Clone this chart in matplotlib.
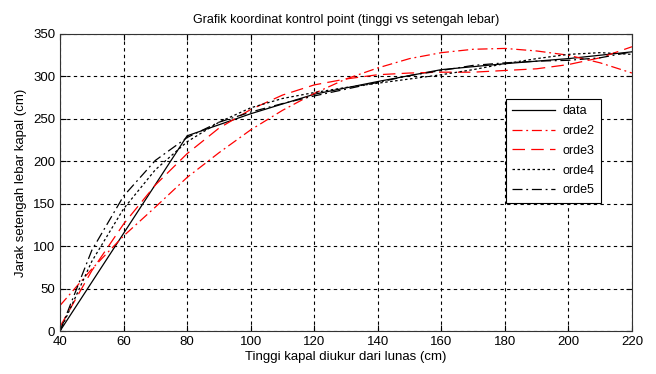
import matplotlib.pyplot as plt

plt.rcParams['font.family'] = ['Liberation Sans', 'DejaVu Sans']

# data ukur
tinggi = [40, 80, 100, 120, 140, 160, 180, 200, 220]
lebar = [0, 230, 256, 279, 294, 308, 315, 321, 329]

# kurva fit (tiap 10 cm)
x_fit = [40, 50, 60, 70, 80, 90, 100, 110, 120, 130, 140, 150, 160, 170, 180, 190, 200, 210, 220]
orde2 = [30, 73, 112, 146, 181, 210, 237, 260, 280, 297, 310, 321, 328, 332, 333, 330, 325, 316, 304]
orde3 = [5, 71, 126, 172, 209, 239, 261, 278, 290, 297, 302, 304, 305, 305, 307, 309, 314, 322, 335]
orde4 = [0, 82, 144, 190, 223, 246, 263, 274, 281, 287, 292, 297, 302, 308, 315, 321, 326, 328, 326]
orde5 = [0, 95, 159, 201, 228, 246, 258, 268, 277, 285, 293, 301, 307, 313, 316, 318, 319, 322, 329]

fig = plt.figure(figsize=(6.56, 3.74), dpi=100)
ax = fig.add_axes([60 / 656, 1 - 331 / 374, 572 / 656, 297 / 374])

lw = 0.9
ax.plot(tinggi, lebar, '-', color='k', lw=lw, label='data')
ax.plot(x_fit, orde2, color='r', lw=lw, ls=(0, (8, 3, 1.5, 3)), label='orde2')
ax.plot(x_fit, orde3, color='r', lw=lw, ls=(0, (10, 5)), label='orde3')
ax.plot(x_fit, orde4, color='k', lw=lw, ls=(0, (2, 2)), label='orde4')
ax.plot(x_fit, orde5, color='k', lw=lw, ls=(0, (8, 3, 1.5, 3)), label='orde5')

ax.set_xlim(40, 220)
ax.set_ylim(0, 350)
ax.set_xticks(range(40, 221, 20))
ax.set_yticks(range(0, 351, 50))
ax.grid(True, color='k', ls=(0, (3, 3)), lw=0.8)
ax.tick_params(direction='in', labelsize=9.5, length=4, width=0.8, top=True, right=True)
for s in ax.spines.values():
    s.set_linewidth(0.8)
    s.set_color('#333333')

ax.set_title('Grafik koordinat kontrol point (tinggi vs setengah lebar)', fontsize=9, pad=8)
ax.set_xlabel('Tinggi kapal diukur dari lunas (cm)', fontsize=9.5, labelpad=2)
ax.set_ylabel('Jarak setengah lebar kapal (cm)', fontsize=9.5, labelpad=4)

leg = ax.legend(loc='upper left', bbox_to_anchor=(0.78, 0.781), fontsize=9, fancybox=False,
                framealpha=1, edgecolor='k', handlelength=3.4, handletextpad=0.6,
                borderaxespad=0, labelspacing=0.62, borderpad=0.5)
leg.get_frame().set_linewidth(0.8)

fig.savefig('out.png')
